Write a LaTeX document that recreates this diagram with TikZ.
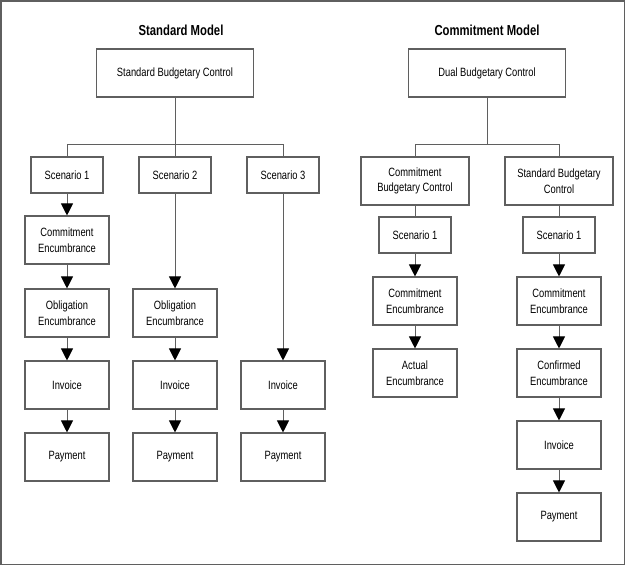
\documentclass[tikz,border=0pt]{standalone}
\usepackage{fontspec}
\setmainfont[FakeStretch=0.78]{Liberation Sans}
\usetikzlibrary{arrows.meta}
\definecolor{ln}{RGB}{95,95,95}
\tikzset{
  box/.style={draw=ln, line width=1.1pt, fill=white, minimum width=84pt, minimum height=48pt, align=center, inner sep=1pt, font=\fontsize{12}{15.5}\selectfont},
  scen/.style={box, minimum width=72pt, minimum height=36pt},
  wide/.style={box, minimum width=108pt},
  top/.style={box, minimum width=157pt},
  title/.style={font=\fontsize{14.5}{17}\selectfont\bfseries},
  conn/.style={draw=ln, line width=1pt},
  arr/.style={conn, -{Triangle[width=12pt,length=12pt,color=black,fill=black]}}
}
\begin{document}
\begin{tikzpicture}[x=1pt,y=-1pt]
\useasboundingbox (0,0) rectangle (626,566);
\draw[ln, line width=1.5pt] (1,1) rectangle (624.5,564.5);

% Standard model
\node[title] (t1) at (181,30) {Standard Model};
\node[top] (sbc) at (175,73) {Standard Budgetary Control};
\node[scen] (s1) at (67,175) {Scenario 1};
\node[scen] (s2) at (175,175) {Scenario 2};
\node[scen] (s3) at (283,175) {Scenario 3};
\node[box] (ce1) at (67,240) {Commitment\\Encumbrance};
\node[box] (oe1) at (67,313) {Obligation\\Encumbrance};
\node[box] (inv1) at (67,385) {Invoice};
\node[box] (pay1) at (67,457) {Payment};
\node[box] (oe2) at (175,313) {Obligation\\Encumbrance};
\node[box] (inv2) at (175,385) {Invoice};
\node[box] (pay2) at (175,457) {Payment};
\node[box] (inv3) at (283,385) {Invoice};
\node[box] (pay3) at (283,457) {Payment};

\draw[conn] (sbc.south) -- (s2.north);
\draw[conn] (s1.north) -- ++(0,-12) -| (s3.north);
\draw[arr] (s1) -- (ce1);
\draw[arr] (ce1) -- (oe1);
\draw[arr] (oe1) -- (inv1);
\draw[arr] (inv1) -- (pay1);
\draw[arr] (s2) -- (oe2);
\draw[arr] (oe2) -- (inv2);
\draw[arr] (inv2) -- (pay2);
\draw[arr] (s3) -- (inv3);
\draw[arr] (inv3) -- (pay3);

% Commitment model
\node[title] (t2) at (487,30) {Commitment Model};
\node[top] (dbc) at (487,73) {Dual Budgetary Control};
\node[wide] (cbc) at (415,181) {Commitment\\Budgetary Control};
\node[wide] (sbc2) at (559,181) {Standard Budgetary\\Control};
\node[scen] (sa) at (415,235) {Scenario 1};
\node[scen] (sb) at (559,235) {Scenario 1};
\node[box] (cea) at (415,301) {Commitment\\Encumbrance};
\node[box] (ae) at (415,373) {Actual\\Encumbrance};
\node[box] (ceb) at (559,301) {Commitment\\Encumbrance};
\node[box] (cf) at (559,373) {Confirmed\\Encumbrance};
\node[box] (invb) at (559,445) {Invoice};
\node[box] (payb) at (559,517) {Payment};

\coordinate (rj) at (487,145);
\draw[conn] (dbc.south) -- (rj);
\draw[conn] (cbc.north) -- ++(0,-12) -| (sbc2.north);
\draw[conn] (cbc) -- (sa);
\draw[conn] (sbc2) -- (sb);
\draw[arr] (sa) -- (cea);
\draw[arr] (cea) -- (ae);
\draw[arr] (sb) -- (ceb);
\draw[arr] (ceb) -- (cf);
\draw[arr] (cf) -- (invb);
\draw[arr] (invb) -- (payb);
\end{tikzpicture}
\end{document}
